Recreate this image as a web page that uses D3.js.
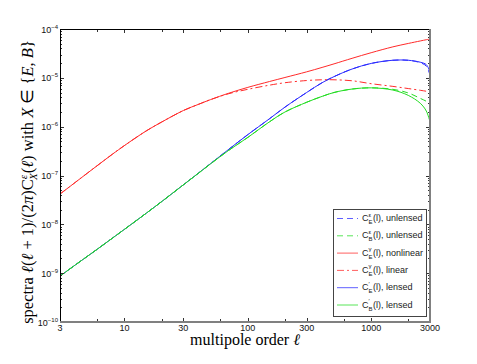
<!DOCTYPE html>
<html><head><meta charset="utf-8">
<script src="https://cdn.jsdelivr.net/npm/d3@7"></script>
<style>body{margin:0;background:#fff}svg{display:block}</style>
</head><body>
<svg id="c" width="477" height="364"></svg>
<script>
const ells = [3,4,5,6,8,10,15,20,30,40,50,70,100,150,200,300,400,500,700,1000,1500,2000,2500,2800,3000];
const ceNonlinear = [4.17e-8,7.26e-8,1.117e-7,1.585e-7,2.74e-7,4.11e-7,8.18e-7,1.242e-6,2.14e-6,2.88e-6,3.59e-6,4.84e-6,6.38e-6,8.41e-6,1.016e-5,1.327e-5,1.633e-5,1.932e-5,2.51e-5,3.27e-5,4.31e-5,5.06e-5,5.69e-5,6.03e-5,6.24e-5];
const ceLinear = [4.17e-8,7.26e-8,1.117e-7,1.585e-7,2.74e-7,4.11e-7,8.18e-7,1.242e-6,2.14e-6,2.88e-6,3.59e-6,4.73e-6,5.82e-6,7.08e-6,7.94e-6,8.81e-6,9.12e-6,9.12e-6,8.71e-6,7.59e-6,6.68e-6,6.03e-6,5.56e-6,5.31e-6,5.13e-6];
const ceLensed = [8.71e-10,1.479e-9,2.213e-9,3.083e-9,5.24e-9,7.91e-9,1.687e-8,2.917e-8,6.43e-8,1.132e-7,1.762e-7,3.43e-7,6.87e-7,1.455e-6,2.51e-6,5.01e-6,7.94e-6,1.059e-5,1.514e-5,1.972e-5,2.29e-5,2.29e-5,2.09e-5,1.862e-5,1.318e-5];
const ceUnlensed = [8.71e-10,1.479e-9,2.213e-9,3.083e-9,5.24e-9,7.91e-9,1.687e-8,2.917e-8,6.43e-8,1.132e-7,1.762e-7,3.43e-7,6.87e-7,1.455e-6,2.51e-6,5.01e-6,7.94e-6,1.059e-5,1.514e-5,1.972e-5,2.29e-5,2.29e-5,2.04e-5,1.738e-5,1.122e-5];
const cbLensed = [8.71e-10,1.479e-9,2.213e-9,3.083e-9,5.24e-9,7.91e-9,1.687e-8,2.917e-8,6.43e-8,1.125e-7,1.738e-7,3.27e-7,6.03e-7,1.259e-6,1.995e-6,3.16e-6,4.17e-6,5.01e-6,5.89e-6,6.24e-6,5.62e-6,4.37e-6,3.02e-6,2.09e-6,1.259e-6];
const cbUnlensed = [8.71e-10,1.479e-9,2.213e-9,3.083e-9,5.24e-9,7.91e-9,1.687e-8,2.917e-8,6.43e-8,1.125e-7,1.738e-7,3.27e-7,6.03e-7,1.259e-6,1.995e-6,3.16e-6,4.17e-6,5.01e-6,5.89e-6,6.24e-6,5.82e-6,4.90e-6,3.80e-6,3.31e-6,2.95e-6];
const xTicks = [3,6,10,20,30,60,100,200,300,600,1000,2000,3000];
const xTickLabels = [3,10,30,100,300,1000,3000];
const yExponents = [-10,-9,-8,-7,-6,-5,-4];

const svg = d3.select("#c");
const L=60, R=430, T=29, B=322;
const x = d3.scaleLog().domain([3,3000]).range([L,R]);
const y = d3.scaleLog().domain([1e-10,1e-4]).range([B,T]);

const RED="#ff2a2a", BLUE="#2a2aff", GREEN="#22dd22";
const series = [
  {vals:ceLensed, color:BLUE, dash:null},
  {vals:ceUnlensed, color:BLUE, dash:"6,4"},
  {vals:cbLensed, color:GREEN, dash:null},
  {vals:cbUnlensed, color:GREEN, dash:"6,4"},
  {vals:ceLinear, color:RED, dash:"7,3,2,3"},
  {vals:ceNonlinear, color:RED, dash:null},
];
const line = d3.line().x(d=>x(d[0])).y(d=>y(d[1])).curve(d3.curveCatmullRom.alpha(0.5));
const g = svg.append("g");
g.append("defs").append("clipPath").attr("id","clip").append("rect")
  .attr("x",L).attr("y",T).attr("width",R-L).attr("height",B-T);
const plot = g.append("g").attr("clip-path","url(#clip)");
series.forEach(s=>{
  plot.append("path").attr("d",line(ells.map((l,i)=>[l,s.vals[i]])))
    .attr("fill","none").attr("stroke",s.color).attr("stroke-width",1)
    .attr("stroke-dasharray",s.dash);
});

// axes ticks
const ax = svg.append("g");
xTicks.forEach(t=>{
  const px = Math.round(x(t))+0.5;
  const len = xTickLabels.includes(t)?4:3;
  ax.append("line").attr("x1",px).attr("x2",px).attr("y1",B).attr("y2",B-len).attr("stroke","#333");
  ax.append("line").attr("x1",px).attr("x2",px).attr("y1",T).attr("y2",T+len).attr("stroke","#333");
});
yExponents.forEach(e=>{
  for(let k=1;k<=9;k++){
    if(e===-4 && k>1) break;
    const v = k*Math.pow(10,e);
    const py = Math.round(y(v))+0.5;
    const len = k===1?4:2;
    ax.append("line").attr("x1",L).attr("x2",L+len).attr("y1",py).attr("y2",py).attr("stroke","#333");
    ax.append("line").attr("x1",R).attr("x2",R-len).attr("y1",py).attr("y2",py).attr("stroke","#333");
  }
});
// frame
ax.append("line").attr("x1",L).attr("x2",R).attr("y1",T+0.5).attr("y2",T+0.5).attr("stroke","#000");
ax.append("line").attr("x1",L+0.5).attr("x2",L+0.5).attr("y1",T).attr("y2",B).attr("stroke","#000");
ax.append("line").attr("x1",R).attr("x2",R).attr("y1",T).attr("y2",B+1).attr("stroke","#808080").attr("stroke-width",2);
ax.append("line").attr("x1",L).attr("x2",R+1).attr("y1",B).attr("y2",B).attr("stroke","#808080").attr("stroke-width",2);

// tick labels
const sans = "Liberation Sans, Arial, sans-serif";
xTickLabels.forEach(t=>{
  ax.append("text").attr("x",x(t)).attr("y",331).attr("text-anchor","middle")
    .attr("font-family",sans).attr("font-size",9).attr("fill","#111").text(t);
});
yExponents.forEach(e=>{
  const t = ax.append("text").attr("x",58).attr("y",y(Math.pow(10,e))+3.5).attr("text-anchor","end")
    .attr("font-family",sans).attr("font-size",9).attr("fill","#111");
  t.append("tspan").text("10");
  t.append("tspan").attr("dy",-4).attr("font-size",6).text("\u2212"+(-e));
});

// axis titles
const serif = "Liberation Serif, Times New Roman, serif";
const xl = svg.append("text").attr("x",245).attr("y",345).attr("text-anchor","middle")
  .attr("font-family",serif).attr("font-size",16).attr("fill","#000");
xl.append("tspan").text("multipole order ");
xl.append("tspan").attr("font-style","italic").text("\u2113");

const yl = svg.append("text").attr("transform","translate(33,182) rotate(-90)").attr("text-anchor","middle")
  .attr("font-family",serif).attr("font-size",16.5).attr("fill","#000");
yl.append("tspan").text("spectra ");
yl.append("tspan").attr("font-style","italic").text("\u2113");
yl.append("tspan").text("(");
yl.append("tspan").attr("font-style","italic").text("\u2113");
yl.append("tspan").text(" + 1)/(2");
yl.append("tspan").attr("font-style","italic").text("\u03c0");
yl.append("tspan").text(")C");
yl.append("tspan").attr("font-size",11).attr("dy",-6).attr("font-style","italic").text("\u03b5");
yl.append("tspan").attr("font-size",11).attr("dx",-5).attr("dy",10).attr("font-style","italic").text("X");
yl.append("tspan").attr("dy",-4).text("(");
yl.append("tspan").attr("font-style","italic").text("\u2113");
yl.append("tspan").text(") with ");
yl.append("tspan").attr("font-style","italic").text("X");
yl.append("tspan").text(" \u2208 {");
yl.append("tspan").attr("font-style","italic").text("E");
yl.append("tspan").text(", ");
yl.append("tspan").attr("font-style","italic").text("B");
yl.append("tspan").text("}");

// legend
const legendSub = ["E","B","E","E","E","B"];
const legendSup = ["\u03b5","\u03b5","\u03b3","\u03b3","\u2032","\u2032"];
const legendText = ["(l), unlensed","(l), unlensed","(l), nonlinear","(l), linear","(l), lensed","(l), lensed"];
const legendStyle = [[BLUE,"6,4"],[GREEN,"6,4"],[RED,null],[RED,"7,3,2,3"],[BLUE,null],[GREEN,null]];
const lg = svg.append("g");
lg.append("rect").attr("x",333.5).attr("y",209.5).attr("width",93).attr("height",107)
  .attr("fill","#fff").attr("stroke","#444").attr("stroke-width",1);
legendText.forEach((txt,i)=>{
  const cy = 218 + i*17.3;
  lg.append("line").attr("x1",337).attr("x2",358).attr("y1",cy+0.5).attr("y2",cy+0.5)
    .attr("stroke",legendStyle[i][0]).attr("stroke-width",1).attr("stroke-dasharray",legendStyle[i][1]).attr("opacity",0.75);
  lg.append("text").attr("x",362).attr("y",cy+3).attr("font-family",sans).attr("font-size",9).attr("fill","#222").text("C");
  lg.append("text").attr("x",368.5).attr("y",cy-1.5).attr("font-family",sans).attr("font-size",6).attr("fill","#222").text(legendSup[i]);
  lg.append("text").attr("x",368.5).attr("y",cy+6).attr("font-family",sans).attr("font-size",6).attr("fill","#222").text(legendSub[i]);
  lg.append("text").attr("x",373).attr("y",cy+3).attr("font-family",sans).attr("font-size",9).attr("fill","#222").text(txt);
});
</script>
</body></html>
